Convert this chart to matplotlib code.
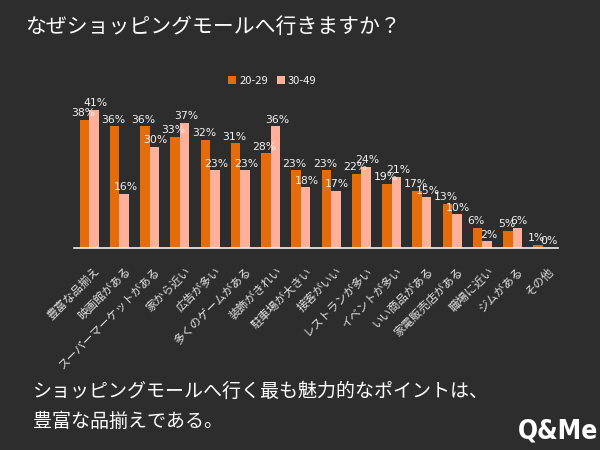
import numpy as np
import matplotlib.pyplot as plt

plt.rcParams['font.family'] = ['Noto Sans CJK JP', 'DejaVu Sans']

# ==========================
# DATA
# ==========================
categories = [
    "豊富な品揃え", "映画館がある", "スーパーマーケットがある", "家から近い",
    "広告が多い", "多くのゲームがある", "装飾がきれい", "駐車場が大きい",
    "接客がいい", "レストランが多い", "イベントが多い", "いい商品がある",
    "家電販売店がある", "職場に近い", "ジムがある", "その他",
]
age_20_29 = [38, 36, 36, 33, 32, 31, 28, 23, 23, 22, 19, 17, 13, 6, 5, 1]
age_30_49 = [41, 16, 30, 37, 23, 23, 36, 18, 17, 24, 21, 15, 10, 2, 6, 0]
series_names = ["20-29", "30-49"]

bg = "#2d2d2d"
orange = "#e46c0a"
pink = "#ffb09a"
txt = "#f2f2f2"

fig = plt.figure(figsize=(6, 4.5), dpi=100, facecolor=bg)
ax = fig.add_axes([74 / 600, 1 - 248 / 450, 484 / 600, 152 / 450])
ax.set_facecolor(bg)

x = np.arange(len(categories))
w = 0.31
b1 = ax.bar(x - w / 2, age_20_29, w, color=orange, label=series_names[0])
b2 = ax.bar(x + w / 2, age_30_49, w, color=pink, label=series_names[1])

# value labels, a little offset like the original
for bars, vals, dx in [(b1, age_20_29, -0.05), (b2, age_30_49, 0.05)]:
    for rect, v in zip(bars, vals):
        ax.text(rect.get_x() + rect.get_width() / 2 + dx, v + 0.5, f"{v}%",
                ha="center", va="bottom", color=txt, fontsize=7.8,
                family="DejaVu Sans")

ax.set_xlim(-0.5, len(categories) - 0.5)
ax.set_ylim(0, 45)
ax.set_yticks([])
ax.set_xticks(x + 0.15)
ax.set_xticklabels(categories, rotation=45, ha="right", rotation_mode="anchor",
                   color="#e0e0e0", fontsize=8.3)
ax.tick_params(axis="x", length=0, pad=12)
for s in ["top", "right", "left"]:
    ax.spines[s].set_visible(False)
ax.spines["bottom"].set_color("#f0f0f0")
ax.spines["bottom"].set_linewidth(1.2)

leg = ax.legend(loc="upper center", bbox_to_anchor=(0.41, 1.2), ncol=2,
                frameon=False, fontsize=8, handlelength=0.7, handleheight=0.7,
                handletextpad=0.3, columnspacing=0.8)
for t in leg.get_texts():
    t.set_color(txt)

# ==========================
# TEXTS
# ==========================
fig.text(25 / 600, 1 - 27 / 450, "なぜショッピングモールへ行きますか？",
         color="white", fontsize=15, va="center", ha="left")
fig.text(33 / 600, 1 - 391 / 450, "ショッピングモールへ行く最も魅力的なポイントは、",
         color="white", fontsize=13.7, va="center", ha="left")
fig.text(33 / 600, 1 - 421 / 450, "豊富な品揃えである。",
         color="white", fontsize=13.7, va="center", ha="left")
fig.text(598 / 600, 1 - 432 / 450, "Q&Me", color="white", fontsize=19,
         fontweight="heavy", ha="right", va="center", family="DejaVu Sans",
         fontstretch="condensed")

fig.savefig("out.png", dpi=100, facecolor=bg)
